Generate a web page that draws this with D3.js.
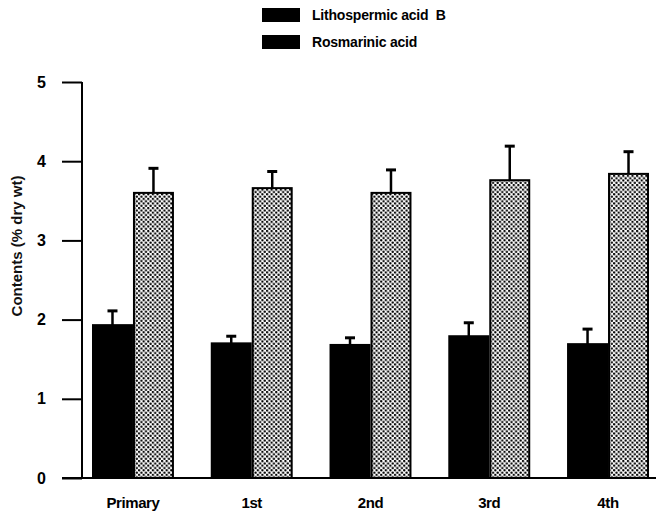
<!DOCTYPE html>
<html>
<head>
<meta charset="utf-8">
<script src="https://cdn.jsdelivr.net/npm/d3@7"></script>
<style>
  body { margin: 0; background: #fff; }
  svg { display: block; }
</style>
</head>
<body>
<svg id="chart" width="661" height="520"></svg>
<script>
const categories = ["Primary", "1st", "2nd", "3rd", "4th"];
const series = ["Lithospermic acid  B", "Rosmarinic acid"];
const lithoB = [1.93, 1.70, 1.68, 1.79, 1.69];
const lithoBErr = [0.18, 0.09, 0.09, 0.17, 0.19];
const rosma = [3.60, 3.66, 3.60, 3.76, 3.84];
const rosmaErr = [0.31, 0.21, 0.29, 0.43, 0.28];
const yTicks = [0, 1, 2, 3, 4, 5];

const svg = d3.select("#chart");
const font = "'Liberation Sans', Arial, sans-serif";

// dotted fill
const defs = svg.append("defs");
const pat = defs.append("pattern")
    .attr("id", "dots")
    .attr("patternUnits", "userSpaceOnUse")
    .attr("width", 4.6).attr("height", 4.6);
pat.append("rect").attr("width", 4.6).attr("height", 4.6).attr("fill", "#fff");
pat.append("circle").attr("cx", 1.1).attr("cy", 1.1).attr("r", 1.2).attr("fill", "#000");
pat.append("circle").attr("cx", 3.4).attr("cy", 3.4).attr("r", 1.2).attr("fill", "#000");

const y = d3.scaleLinear().domain([0, 5]).range([478, 82]);
const x = d3.scaleBand().domain(categories).range([92, 649]).paddingInner(0.31).paddingOuter(0);
const inner = d3.scaleBand().domain(series).range([0, x.bandwidth()]);

// axes
const yAxis = svg.append("g")
    .attr("transform", "translate(82,0)")
    .call(d3.axisLeft(y).tickValues(yTicks).tickSize(20).tickFormat(d3.format("d")));
yAxis.select(".domain").attr("stroke", "#000").attr("stroke-width", 2).attr("d", "M0,82V478");
yAxis.selectAll(".tick line").attr("stroke", "#000").attr("stroke-width", 2);
yAxis.selectAll(".tick text")
    .attr("x", -36)
    .attr("font-family", font).attr("font-weight", "bold").attr("font-size", 16)
    .attr("fill", "#000");

svg.append("line")
    .attr("x1", 62).attr("x2", 656)
    .attr("y1", y(0)).attr("y2", y(0))
    .attr("stroke", "#000").attr("stroke-width", 2);

svg.append("text")
    .attr("transform", "translate(22,246) rotate(-90)")
    .attr("text-anchor", "middle")
    .attr("font-family", font).attr("font-size", 15).attr("font-weight", "bold")
    .attr("fill", "#111")
    .text("Contents (% dry wt)");

// bars
const data = categories.map((c, i) => [
  { cat: c, key: series[0], v: lithoB[i], e: lithoBErr[i] },
  { cat: c, key: series[1], v: rosma[i], e: rosmaErr[i] }
]);

const groups = svg.append("g").selectAll("g")
    .data(data)
    .join("g")
    .attr("transform", (d, i) => `translate(${x(categories[i])},0)`);

const bars = groups.selectAll("g.bar")
    .data(d => d)
    .join("g").attr("class", "bar");

// error bars (drawn under bars)
bars.append("line")
    .attr("x1", d => inner(d.key) + inner.bandwidth() / 2)
    .attr("x2", d => inner(d.key) + inner.bandwidth() / 2)
    .attr("y1", d => y(d.v)).attr("y2", d => y(d.v + d.e))
    .attr("stroke", "#000").attr("stroke-width", 2.5);
bars.append("line")
    .attr("x1", d => inner(d.key) + inner.bandwidth() / 2 - 5)
    .attr("x2", d => inner(d.key) + inner.bandwidth() / 2 + 5)
    .attr("y1", d => y(d.v + d.e)).attr("y2", d => y(d.v + d.e))
    .attr("stroke", "#000").attr("stroke-width", 3);

bars.append("rect")
    .attr("x", d => inner(d.key) + 1)
    .attr("width", inner.bandwidth() - 2)
    .attr("y", d => y(d.v))
    .attr("height", d => y(0) - y(d.v))
    .attr("fill", d => d.key === series[0] ? "#000" : "url(#dots)")
    .attr("stroke", "#000").attr("stroke-width", 2);

// category labels
svg.append("g").selectAll("text")
    .data(categories)
    .join("text")
    .attr("x", d => x(d) + x.bandwidth() / 2)
    .attr("y", 508)
    .attr("text-anchor", "middle")
    .attr("font-family", font).attr("font-weight", "bold").attr("font-size", 15)
    .attr("letter-spacing", -0.4)
    .attr("fill", "#000")
    .text(d => d);

// legend
const legend = svg.append("g").selectAll("g")
    .data(series)
    .join("g")
    .attr("transform", (d, i) => `translate(262,${8 + i * 27})`);
legend.append("rect")
    .attr("width", 38).attr("height", 14)
    .attr("fill", "#000");
legend.append("text")
    .attr("x", 50).attr("y", 12)
    .attr("font-family", font).attr("font-weight", "bold").attr("font-size", 14)
    .attr("letter-spacing", -0.2)
    .attr("fill", "#000")
    .attr("xml:space", "preserve")
    .style("white-space", "pre")
    .text(d => d);
</script>
</body>
</html>
